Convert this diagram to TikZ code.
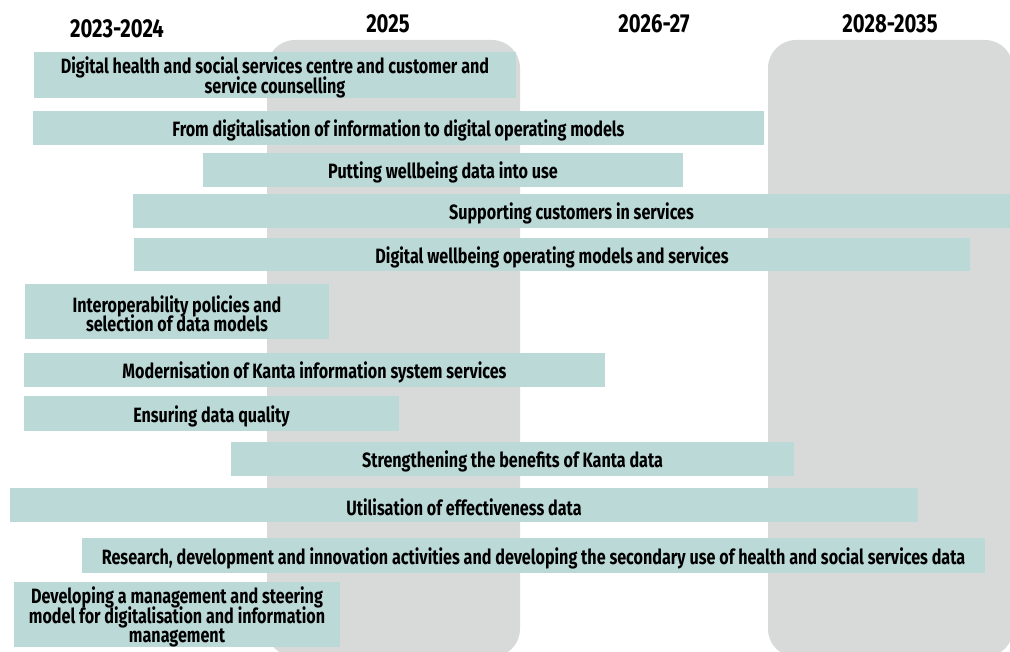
\documentclass[tikz,border=0pt]{standalone}
\usepackage{fontspec}
\setmainfont{Fira Sans}[FakeStretch=0.78]
\definecolor{barcol}{RGB}{186,217,215}
\definecolor{colcol}{RGB}{216,218,218}
\newcommand{\barfont}{\bfseries\fontsize{20.7}{19.5}\selectfont\lineskiplimit=-20pt\relax}
\tikzset{
  barbox/.style={fill=barcol, inner sep=0pt},
  bartext/.style={inner sep=0pt, align=center, font=\barfont},
  period/.style={inner sep=0pt, font=\bfseries\fontsize{26}{27}\selectfont}
}
% \gbar{name}{x1}{y1}{x2}{y2}{text}
\newcommand{\gbar}[6]{%
  \node[barbox, minimum width={#4pt-#2pt}, minimum height={#5pt-#3pt}]
    (#1) at ({(#2+#4)/2},{(#3+#5)/2}) {};
  \node[bartext] (#1t) at ([yshift=-2.5pt]#1.center) {#6};}
\begin{document}
\begin{tikzpicture}[x=1pt,y=-1pt]
\useasboundingbox (0,0) rectangle (1010,652);
% shaded period columns
\begin{scope}
  \clip (0,0) rectangle (1010,652);
  \fill[colcol, rounded corners=28pt] (267,40) rectangle (520,657);
  \fill[colcol, rounded corners=28pt] (768,40) rectangle (1013,657);
\end{scope}
% period headings
\node[period] (p1) at (117,29) {2023-2024};
\node[period] (p2) at (388,24) {2025};
\node[period] (p3) at (654,24) {2026-27};
\node[period] (p4) at (890,24) {2028-2035};
% activity bars
\gbar{b1}{34}{52}{516}{98}{Digital health and social services centre and customer and\\service counselling}
\gbar{b2}{33}{111}{764}{145}{From digitalisation of information to digital operating models}
\gbar{b3}{203}{153}{683}{187}{Putting wellbeing data into use}
\gbar{b4}{133}{194}{1010}{228}{Supporting customers in services}
\gbar{b5}{134}{238}{970}{271}{Digital wellbeing operating models and services}
\gbar{b6}{25}{284}{329}{339}{Interoperability policies and\\selection of data models}
\gbar{b7}{24}{353}{605}{387}{Modernisation of Kanta information system services}
\gbar{b8}{24}{396}{399}{431}{Ensuring data quality}
\gbar{b9}{231}{442}{794}{476}{Strengthening the benefits of Kanta data}
\gbar{b10}{10}{488}{918}{522}{Utilisation of effectiveness data}
\gbar{b11}{82}{538}{985}{573}{Research, development and innovation activities and developing the secondary use of health and social services data}
\gbar{b12}{14}{582}{340}{647}{Developing a management and steering\\model for digitalisation and information\\management}
\end{tikzpicture}
\end{document}
